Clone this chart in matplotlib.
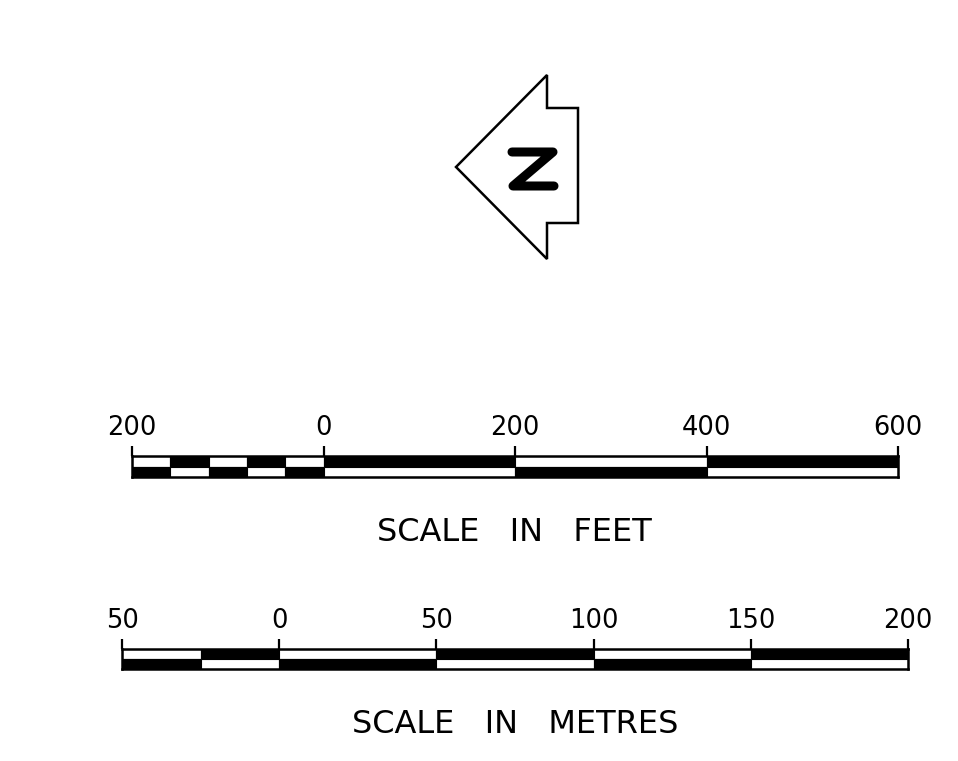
import numpy as np
import matplotlib
matplotlib.use("Agg")
import matplotlib.pyplot as plt
from matplotlib.patches import Polygon

W, H = 958, 761

# scale in feet: segment edges, fill of upper / lower half, labelled ticks
feet_edges = [-200, -160, -120, -80, -40, 0, 200, 400, 600]
feet_top = ["white", "black", "white", "black", "white", "black", "white", "black"]
feet_bottom = ["black", "white", "black", "white", "black", "white", "black", "white"]
feet_ticks = [-200, 0, 200, 400, 600]
feet_labels = ["200", "0", "200", "400", "600"]

# scale in metres
metre_edges = [-50, -25, 0, 50, 100, 150, 200]
metre_top = ["white", "black", "white", "black", "white", "black"]
metre_bottom = ["black", "white", "black", "white", "black", "white"]
metre_ticks = [-50, 0, 50, 100, 150, 200]
metre_labels = ["50", "0", "50", "100", "150", "200"]

plt.rcParams["font.family"] = ["DejaVu Sans"]

fig = plt.figure(figsize=(W / 100, H / 100), dpi=100)


def px_axes(left, right, top, bottom):
    # axes placed in pixel coordinates of the figure (origin top-left)
    return fig.add_axes([left / W, 1 - bottom / H, (right - left) / W, (bottom - top) / H])


def scale_bar(ax, edges, top, bottom, ticks, labels):
    lefts = edges[:-1]
    widths = np.diff(edges)
    ax.barh(0.75, widths, left=lefts, height=0.5, color=top,
            edgecolor="black", linewidth=0.8)
    ax.barh(0.25, widths, left=lefts, height=0.5, color=bottom,
            edgecolor="black", linewidth=0.8)
    ax.set_xlim(edges[0], edges[-1])
    ax.set_ylim(0, 1)
    ax.set_yticks([])
    ax.set_xticks(ticks, labels=labels)
    ax.tick_params(axis="x", top=True, bottom=False, labeltop=True,
                   labelbottom=False, direction="out", length=7,
                   width=1.6, pad=4, labelsize=18.5)
    for s in ax.spines.values():
        s.set_linewidth(1.8)


# north arrow (pointing left), drawn in a full-figure pixel frame
bg = fig.add_axes([0, 0, 1, 1])
bg.set_xlim(0, W)
bg.set_ylim(H, 0)
bg.axis("off")
arrow = [(456, 167), (547, 75), (547, 108), (578, 108),
         (578, 223), (547, 223), (547, 259)]
bg.add_patch(Polygon(arrow, closed=True, facecolor="white",
                     edgecolor="black", linewidth=1.8))
bg.plot([512, 553, 513, 554], [152, 152, 186, 186], color="black", lw=6.5,
        solid_capstyle="round", solid_joinstyle="round")

ax_ft = px_axes(132, 898, 456, 477)
scale_bar(ax_ft, feet_edges, feet_top, feet_bottom, feet_ticks, feet_labels)

ax_m = px_axes(122, 908, 649, 669)
scale_bar(ax_m, metre_edges, metre_top, metre_bottom, metre_ticks, metre_labels)

fig.text(514 / W, 1 - 541 / H, "SCALE   IN   FEET", ha="center",
         va="baseline", fontsize=23)
fig.text(515 / W, 1 - 733 / H, "SCALE   IN   METRES", ha="center",
         va="baseline", fontsize=23)

fig.savefig("out.png", dpi=100, facecolor="white")
